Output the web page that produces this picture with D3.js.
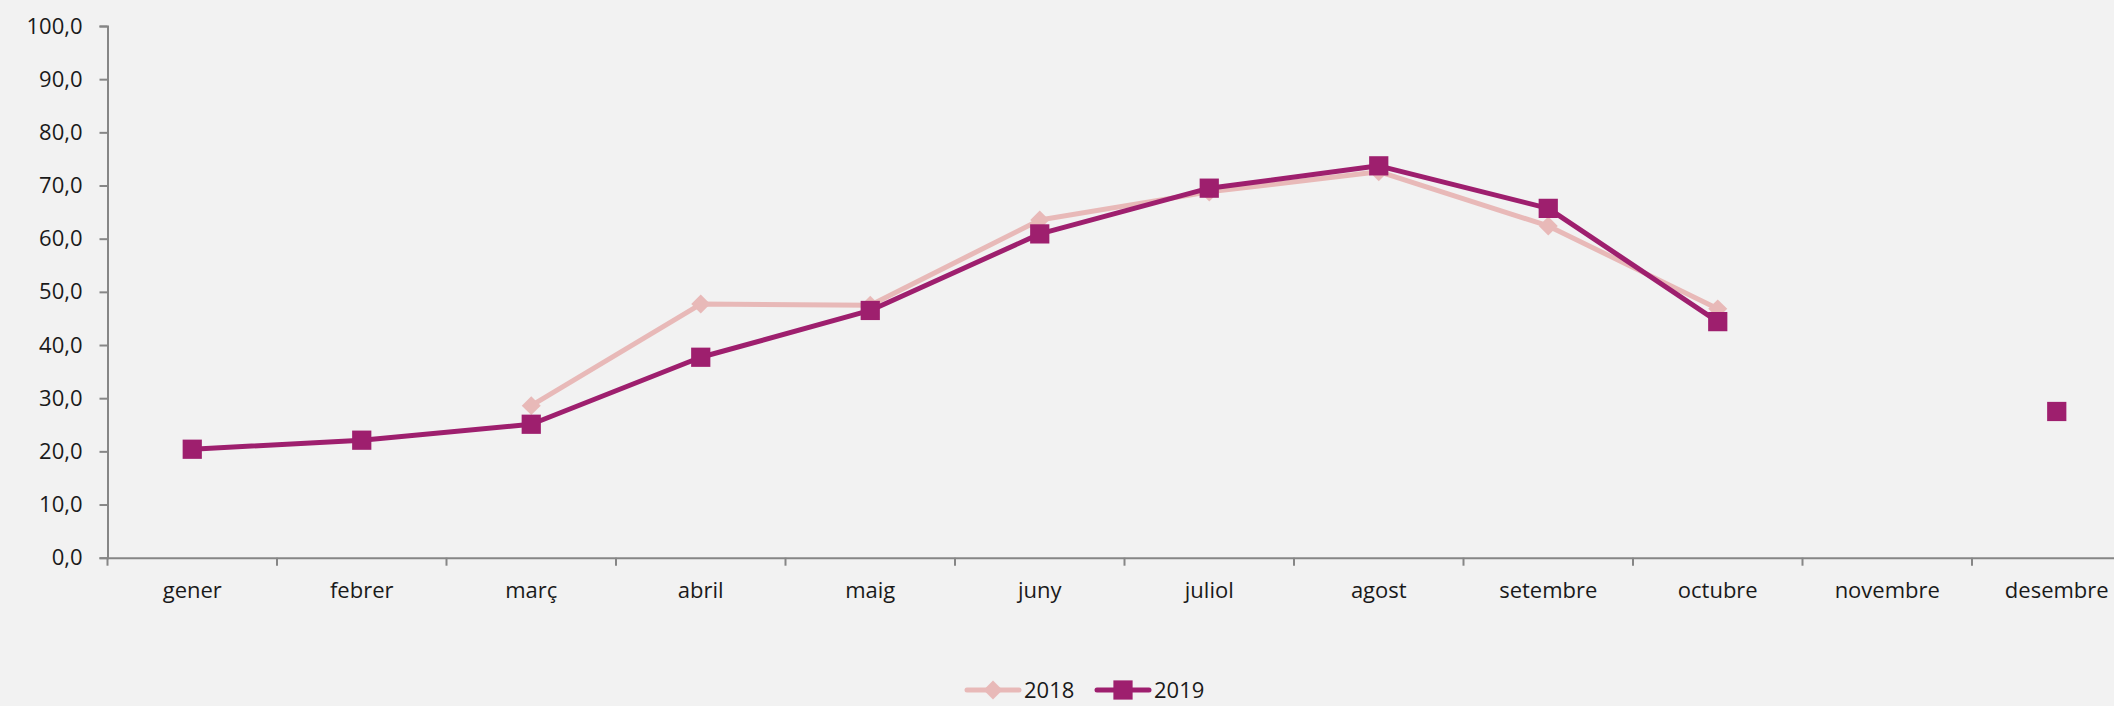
<!DOCTYPE html>
<html>
<head>
<meta charset="utf-8">
<script src="https://cdn.jsdelivr.net/npm/d3@7"></script>
<style>
  html, body { margin: 0; padding: 0; background: #f2f2f2; overflow: hidden; }
  svg { display: block; font-family: "Open Sans", sans-serif; }
</style>
</head>
<body>
<div id="chart"></div>
<script>
const months = ['gener', 'febrer', 'març', 'abril', 'maig', 'juny', 'juliol', 'agost', 'setembre', 'octubre', 'novembre', 'desembre'];
const values2018 = [null, null, 28.6, 47.7, 47.5, 63.5, 68.8, 72.6, 62.4, 46.8, null, null];
const values2019 = [20.4, 22.1, 25.1, 37.7, 46.5, 60.9, 69.5, 73.7, 65.7, 44.4, null, 27.5];
const yTicks = [0, 10, 20, 30, 40, 50, 60, 70, 80, 90, 100];

const width = 2114;
const height = 706;
const colorA = '#e8b9b8';
const colorB = '#9e1f6e';

const svg = d3.select('#chart').append('svg')
    .attr('width', width)
    .attr('height', height);

svg.append('rect')
    .attr('width', width)
    .attr('height', height)
    .attr('fill', '#f2f2f2');

// plot area runs past the right edge like the original
const x = d3.scaleBand()
    .domain(months)
    .range([107.5, 2141.5])
    .padding(0);

const y = d3.scaleLinear()
    .domain([0, 100])
    .range([557.7, 26]);

const fmt = d => d3.format('.1f')(d).replace('.', ',');

// Y axis
const yAxis = svg.append('g')
    .attr('transform', `translate(${x.range()[0]},0)`)
    .call(d3.axisLeft(y).tickValues(yTicks).tickFormat(fmt).tickSize(8).tickPadding(17));
yAxis.selectAll('path, line').attr('stroke', '#868686').attr('stroke-width', 2);
yAxis.selectAll('text').attr('font-size', 22).attr('fill', '#1a1a1a').attr('font-family', '"Open Sans", sans-serif');

// X axis
const xAxis = svg.append('g')
    .attr('transform', `translate(0,${y(0)})`)
    .call(d3.axisBottom(x).tickSize(0).tickPadding(25));
xAxis.select('.domain').attr('stroke', '#868686').attr('stroke-width', 2);
xAxis.selectAll('text').attr('font-size', 22).attr('fill', '#1a1a1a').attr('font-family', '"Open Sans", sans-serif');

// category boundary ticks
const bounds = months.map(m => x(m)).concat([x.range()[1]]);
svg.append('g')
    .selectAll('line')
    .data(bounds)
    .enter()
    .append('line')
    .attr('x1', d => d)
    .attr('x2', d => d)
    .attr('y1', y(0))
    .attr('y2', y(0) + 8)
    .attr('stroke', '#868686')
    .attr('stroke-width', 2);

const cx = i => x(months[i]) + x.bandwidth() / 2;

const line = d3.line()
    .defined(d => d != null)
    .x((d, i) => cx(i))
    .y(d => y(d));

// diamond = square turned 45 degrees
function marker(sel, kind, size) {
  sel.attr('d', d3.symbol().type(d3.symbolSquare).size(size));
  if (kind === 'diamond') sel.attr('transform', function() { return d3.select(this).attr('transform') + ' rotate(45)'; });
}

function drawSeries(values, color, kind, size) {
  svg.append('path')
      .datum(values)
      .attr('fill', 'none')
      .attr('stroke', color)
      .attr('stroke-width', 5)
      .attr('stroke-linejoin', 'round')
      .attr('d', line);

  svg.append('g')
      .selectAll('path')
      .data(values.map((v, i) => ({ v, i })).filter(d => d.v != null))
      .enter()
      .append('path')
      .attr('transform', d => `translate(${cx(d.i)},${y(d.v)})`)
      .attr('fill', color)
      .call(marker, kind, size);
}

drawSeries(values2018, colorA, 'diamond', 180);
drawSeries(values2019, colorB, 'square', 370);

// Legend
const legendY = 690;
const legendItems = [
  { label: '2018', color: colorA, kind: 'diamond', size: 180, x: 967 },
  { label: '2019', color: colorB, kind: 'square', size: 370, x: 1097 }
];
const legend = svg.append('g');
legendItems.forEach(item => {
  legend.append('line')
      .attr('x1', item.x)
      .attr('x2', item.x + 52)
      .attr('y1', legendY)
      .attr('y2', legendY)
      .attr('stroke', item.color)
      .attr('stroke-width', 5)
      .attr('stroke-linecap', 'round');
  legend.append('path')
      .attr('transform', `translate(${item.x + 26},${legendY})`)
      .attr('fill', item.color)
      .call(marker, item.kind, item.size);
  legend.append('text')
      .text(item.label)
      .attr('x', item.x + 57)
      .attr('y', legendY)
      .attr('dy', '0.35em')
      .attr('font-size', 22)
      .attr('fill', '#1a1a1a');
});
</script>
</body>
</html>
